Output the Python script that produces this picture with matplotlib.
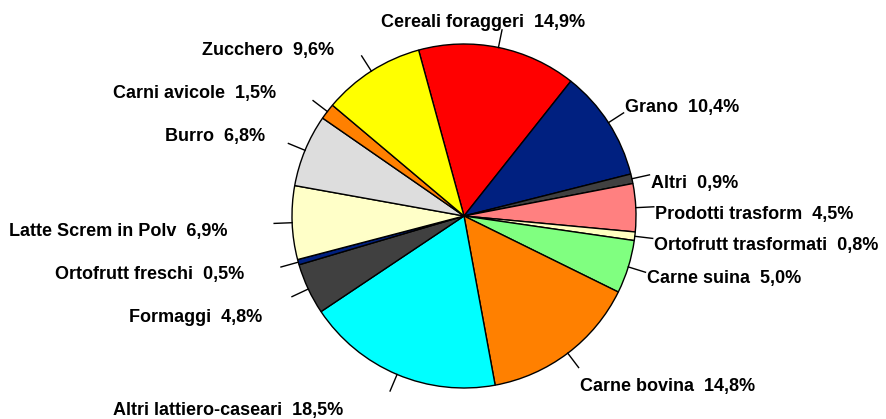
import numpy as np
import matplotlib
matplotlib.use("Agg")
import matplotlib.pyplot as plt

# data (clockwise from the red slice)
labels = ["Cereali foraggeri", "Grano", "Altri", "Prodotti trasform",
          "Ortofrutt trasformati", "Carne suina", "Carne bovina",
          "Altri lattiero-caseari", "Formaggi", "Ortofrutt freschi",
          "Latte Screm in Polv", "Burro", "Carni avicole", "Zucchero"]
values = [14.9, 10.4, 0.9, 4.5, 0.8, 5.0, 14.8, 18.5, 4.8, 0.5, 6.9, 6.8, 1.5, 9.6]
colors = ["#FF0000", "#002080", "#404040", "#FF8080", "#FFFFC0", "#80FF80",
          "#FF8000", "#00FFFF", "#404040", "#002080", "#FFFFC8", "#DDDDDD",
          "#FF8000", "#FFFF00"]

# label anchors in pixels (x, y from top, alignment)
label_pos = [(483, 20, "center"), (625, 105, "left"), (651, 181, "left"),
             (655, 212, "left"), (654, 243, "left"), (647, 276, "left"),
             (580, 385, "left"), (343, 409, "right"), (262, 316, "right"),
             (244, 273, "right"), (228, 229, "right"), (265, 134, "right"),
             (276, 91, "right"), (334, 48, "right")]

W, H = 887, 419
cx, cy, R = 464, H - 216, 172
start = 105.3

fig = plt.figure(figsize=(W / 100, H / 100), dpi=100)
ax = fig.add_axes([0, 0, 1, 1])

ax.pie(values, colors=colors, startangle=start, counterclock=False,
       center=(cx, cy), radius=R,
       wedgeprops=dict(edgecolor="black", linewidth=1.0))

total = sum(values)
cum = 0
for name, v, (lx, ly, ha) in zip(labels, values, label_pos):
    mid = np.radians(start - 360 * (cum + v / 2) / total)
    cum += v
    x0, y0 = cx + R * np.cos(mid), cy + R * np.sin(mid)
    x1, y1 = cx + 190 * np.cos(mid), cy + 190 * np.sin(mid)
    ax.plot([x0, x1], [y0, y1], color="black", lw=1.0)
    txt = f"{name}  {str(v).replace('.', ',')}%"
    ax.text(lx, H - ly - 2, txt, ha=ha, va="center", fontsize=13,
            fontweight="bold", family="Liberation Sans")

ax.set_xlim(0, W)
ax.set_ylim(0, H)
ax.set_aspect("equal")
ax.axis("off")

fig.savefig("out.png", dpi=100)
